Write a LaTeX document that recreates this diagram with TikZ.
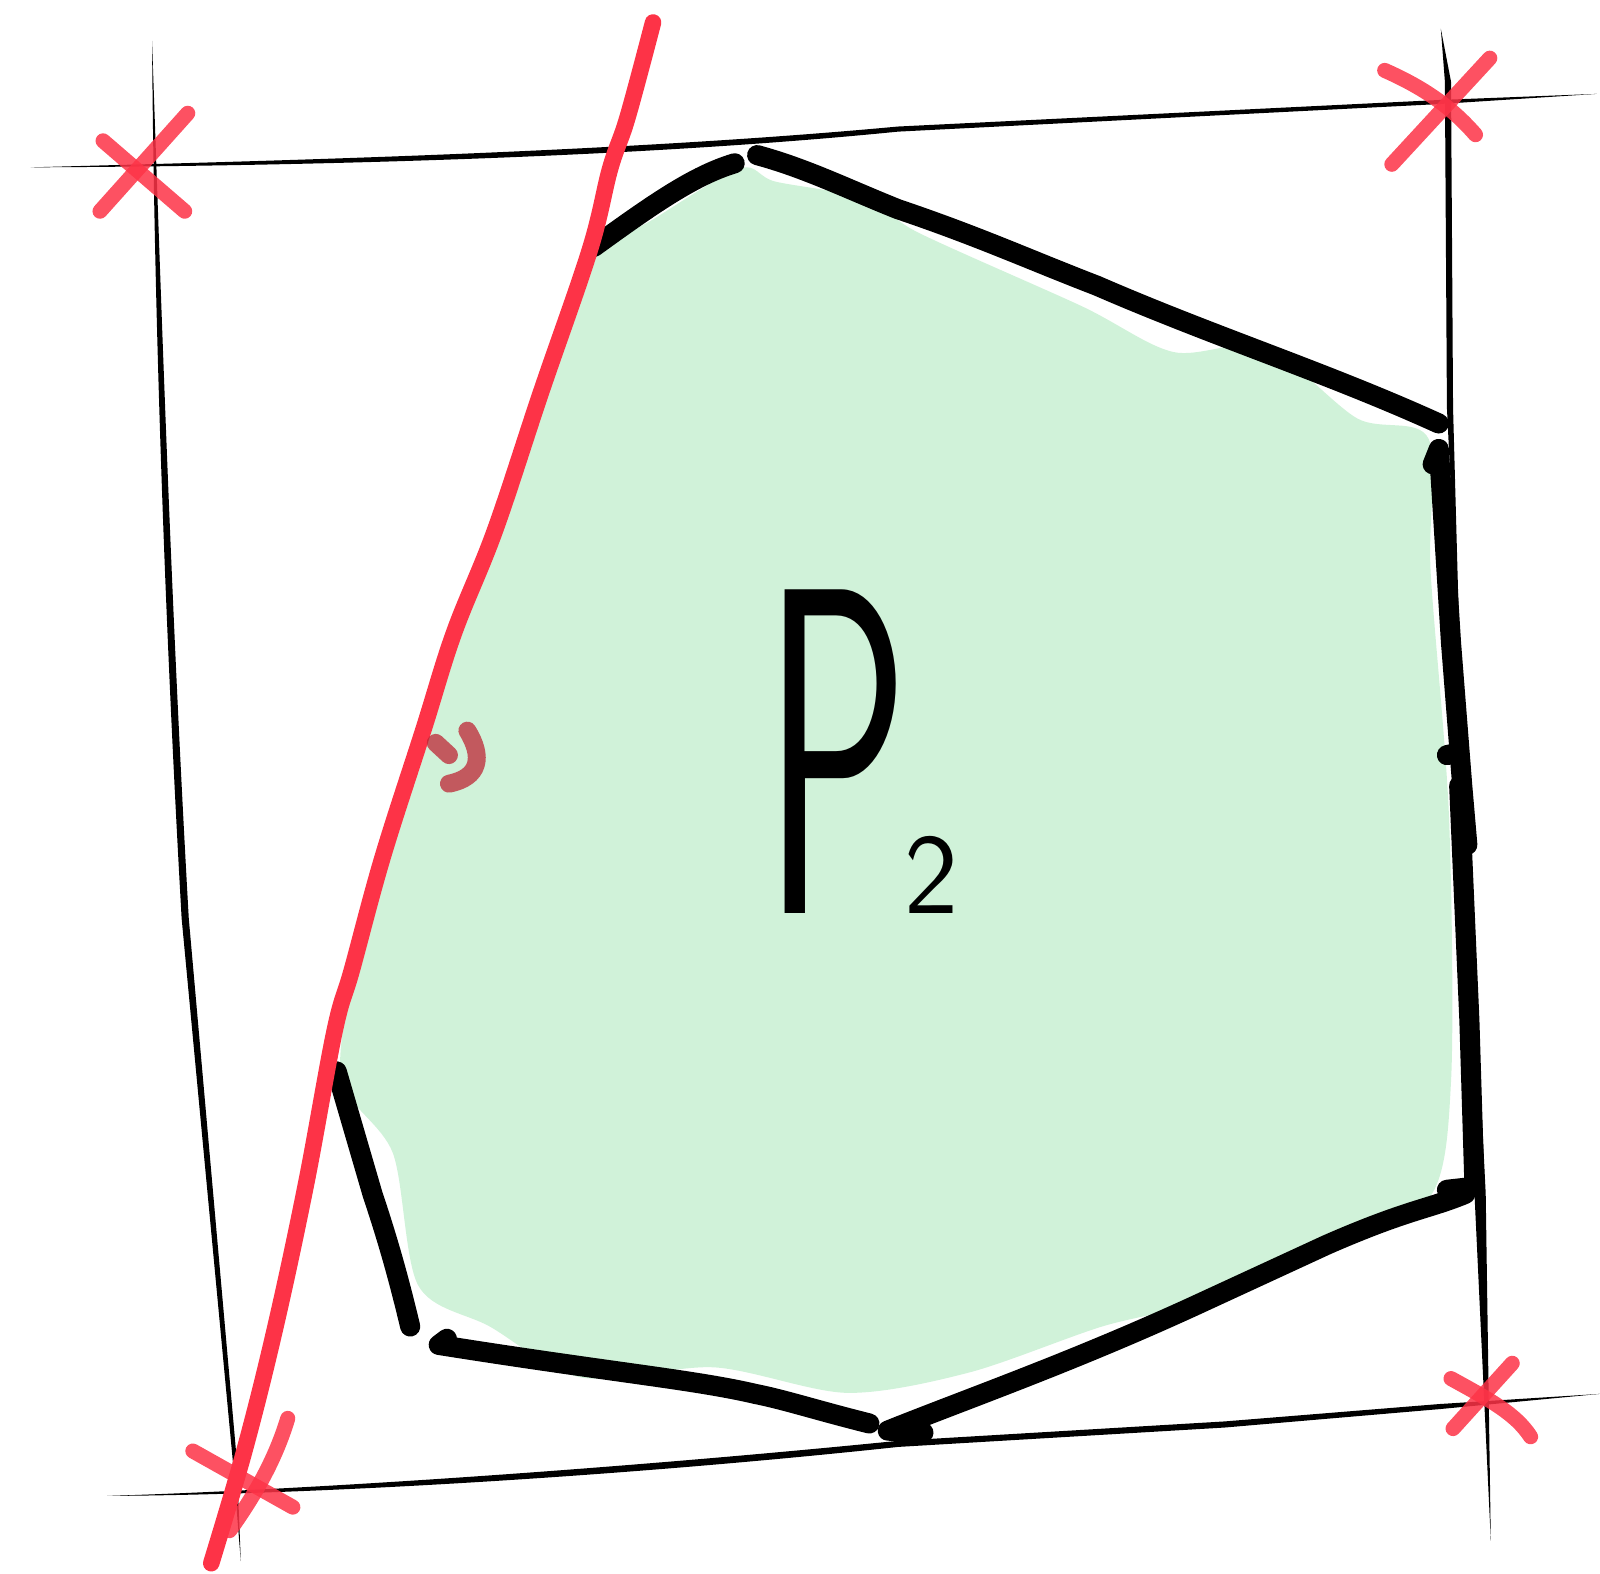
\documentclass[tikz,border=0pt]{standalone}
\usepackage{xcolor}
\usepackage{tikz}
\usetikzlibrary{calc}

\definecolor{markred}{HTML}{FD3347}
\definecolor{blobgreen}{HTML}{D0F2D9}

\begin{document}
\begin{tikzpicture}[
  x=0.01cm, y=-0.01cm,
  frame/.style={fill=black},
  pen/.style={draw=black, line width=5.6pt, line cap=round, line join=round},
  redpen/.style={draw=markred, line width=4.6pt, line cap=round, line join=round},
  cross/.style={draw=markred, line width=4.2pt, line cap=round, opacity=0.85},
  tick/.style={draw=markred!75!black, line width=5pt, line cap=round, opacity=0.75},
  blob/.style={fill=blobgreen},
  lbl/.style={inner sep=0pt, anchor=base west, font=\sffamily}]
  \useasboundingbox (0,0) rectangle (1568,1542);
  % --- shaded region ---
  \fill[blob] plot[smooth cycle, tension=0.5] coordinates {
    (725,165) (640,215) (585,250) (555,330) (510,460) (460,600) (420,700)
    (380,830) (345,960) (335,1060) (385,1130) (410,1260) (480,1300)
    (570,1350) (700,1340) (830,1365) (950,1345) (1080,1300) (1180,1275)
    (1300,1222) (1400,1175) (1422,1060) (1420,800) (1402,560) (1400,430)
    (1330,410) (1240,340) (1150,345) (1060,300) (900,228) (850,195) (760,178)};
  % --- sketched frame lines ---
  \fill[frame] (30,164) .. controls (250,158) and (600,150) .. (880,124)
    -- (1410,98) -- (1565,92) -- (1410,102) -- (880,129)
    .. controls (600,157) and (250,163) .. cycle;
  \fill[frame] (149,40) .. controls (158,300) and (168,600) .. (185,900)
    -- (232,1430) -- (236,1530) -- (228,1430) -- (178,900)
    .. controls (161,600) and (151,300) .. cycle;
  \fill[frame] (1412,28) -- (1422,80) -- (1424,400) -- (1445,1170)
    -- (1461,1510) -- (1456,1170) -- (1418,400) -- (1416,80) -- cycle;
  \fill[frame] (105,1466) .. controls (300,1460) and (600,1440) .. (880,1412)
    -- (1200,1393) -- (1410,1376) -- (1568,1366) -- (1410,1381) -- (1200,1399)
    -- (880,1418) .. controls (600,1448) and (300,1465) .. cycle;
  % --- polygon outline ---
  \draw[pen] (582,242) .. controls (640,200) and (680,172) .. (720,160);
  \draw[pen] (742,152) .. controls (790,165) and (830,185) .. (880,205)
    .. controls (960,232) and (1010,255) .. (1075,280)
    .. controls (1190,330) and (1300,365) .. (1410,415);
  \draw[pen] (1404,455) -- (1410,440) -- (1412,470) -- (1422,630)
    -- (1433,770) -- (1438,828);
  \draw[pen] (1418,740) -- (1428,738);
  \draw[pen] (1430,770) -- (1440,1000) -- (1445,1163) -- (1418,1166);
  \draw[pen] (1436,1170) .. controls (1400,1185) and (1380,1185) .. (1300,1220)
    -- (1170,1280) .. controls (1050,1335) and (950,1370) .. (870,1402) -- (905,1404);
  \draw[pen] (852,1395) .. controls (800,1382) and (770,1372) .. (740,1366)
    .. controls (680,1352) and (600,1345) .. (430,1318) -- (438,1312);
  \draw[pen] (402,1300) .. controls (390,1250) and (380,1215) .. (365,1170)
    -- (330,1050);
  % --- cutting line ---
  \draw[redpen] plot[smooth, tension=0.6] coordinates {
    (640,22) (615,115) (598,165) (578,245) (530,385) (485,520) (445,620)
    (415,715) (375,840) (345,950) (328,1010) (300,1160) (270,1300)
    (240,1420) (207,1532)};
  \draw[tick] (427,728) -- (440,740);
  \draw[tick] (458,716) .. controls (474,742) and (470,762) .. (440,768);
  % --- corner marks ---
  \draw[cross] (98,207) -- (184,111);
  \draw[cross] (101,138) -- (181,207);
  \draw[cross] (1357,69) .. controls (1400,88) and (1425,108) .. (1446,132);
  \draw[cross] (1460,57) -- (1364,161);
  \draw[cross] (1422,1351) .. controls (1460,1372) and (1485,1385) .. (1500,1408);
  \draw[cross] (1482,1336) -- (1424,1400);
  \draw[cross] (189,1422) -- (287,1477);
  \draw[cross] (282,1390) .. controls (270,1430) and (250,1465) .. (225,1500);
  % --- label ---
  \node[lbl] (ptwo) at (748,895)
    {\fontsize{130}{130}\selectfont\scalebox{0.52}[1]{P}\kern-0.05cm{\fontsize{32}{32}\selectfont 2}};
\end{tikzpicture}
\end{document}
